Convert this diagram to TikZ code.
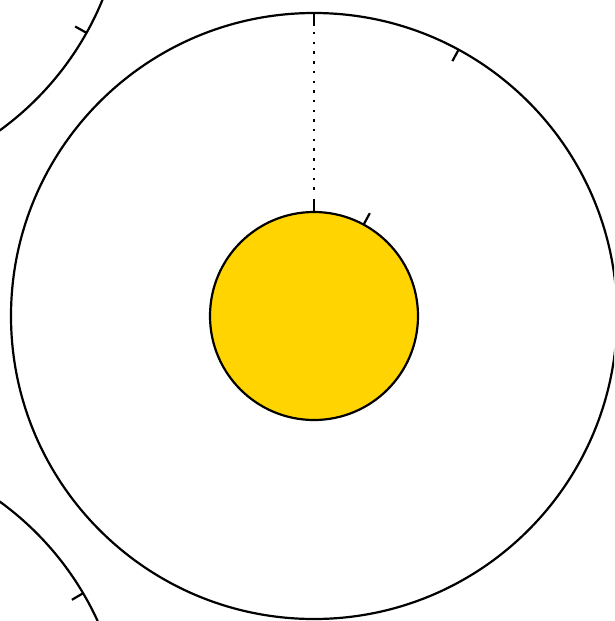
\documentclass[tikz,border=0pt]{standalone}
\usetikzlibrary{calc}
\definecolor{sunyellow}{RGB}{255,212,0}
\begin{document}
\begin{tikzpicture}[x=1pt,y=-1pt,
  wheel/.style={draw=black,line width=2.2pt},
  tickmark/.style={draw=black,line width=2.2pt},
  guide/.style={draw=black,line width=2.4pt,dash pattern=on 2.4pt off 7.3pt}]
\useasboundingbox (0,0) rectangle (614,621);
\clip (0,0) rectangle (614,621);
\coordinate (C) at (314,316);
\coordinate (TL) at (-178,-115);
\coordinate (BL) at (-178,747);
% neighbouring wheels
\draw[wheel] (TL) circle[radius=303];
\draw[wheel] (BL) circle[radius=303];
\draw[tickmark] ($(TL)+(29.2:303)$) -- ($(TL)+(29.2:290)$);
\draw[tickmark] ($(BL)+(-30.5:303)$) -- ($(BL)+(-30.5:290)$);
% main wheel
\draw[wheel] (C) circle[radius=303];
\draw[tickmark] ($(C)+(-90:303)$) coordinate (topout) -- ($(C)+(-90:290)$) coordinate (topin);
\draw[tickmark] ($(C)+(-61.5:303)$) -- ($(C)+(-61.5:290)$);
% hub
\draw[wheel,fill=sunyellow] (C) circle[radius=104];
\draw[tickmark] ($(C)+(-90:104)$) -- ($(C)+(-90:117)$) coordinate (hubtop);
\draw[tickmark] ($(C)+(-61.5:104)$) -- ($(C)+(-61.5:117)$);
% dotted guide
\draw[guide] ($(topin)+(0,6)$) -- ($(hubtop)+(0,-4)$);
\end{tikzpicture}
\end{document}
